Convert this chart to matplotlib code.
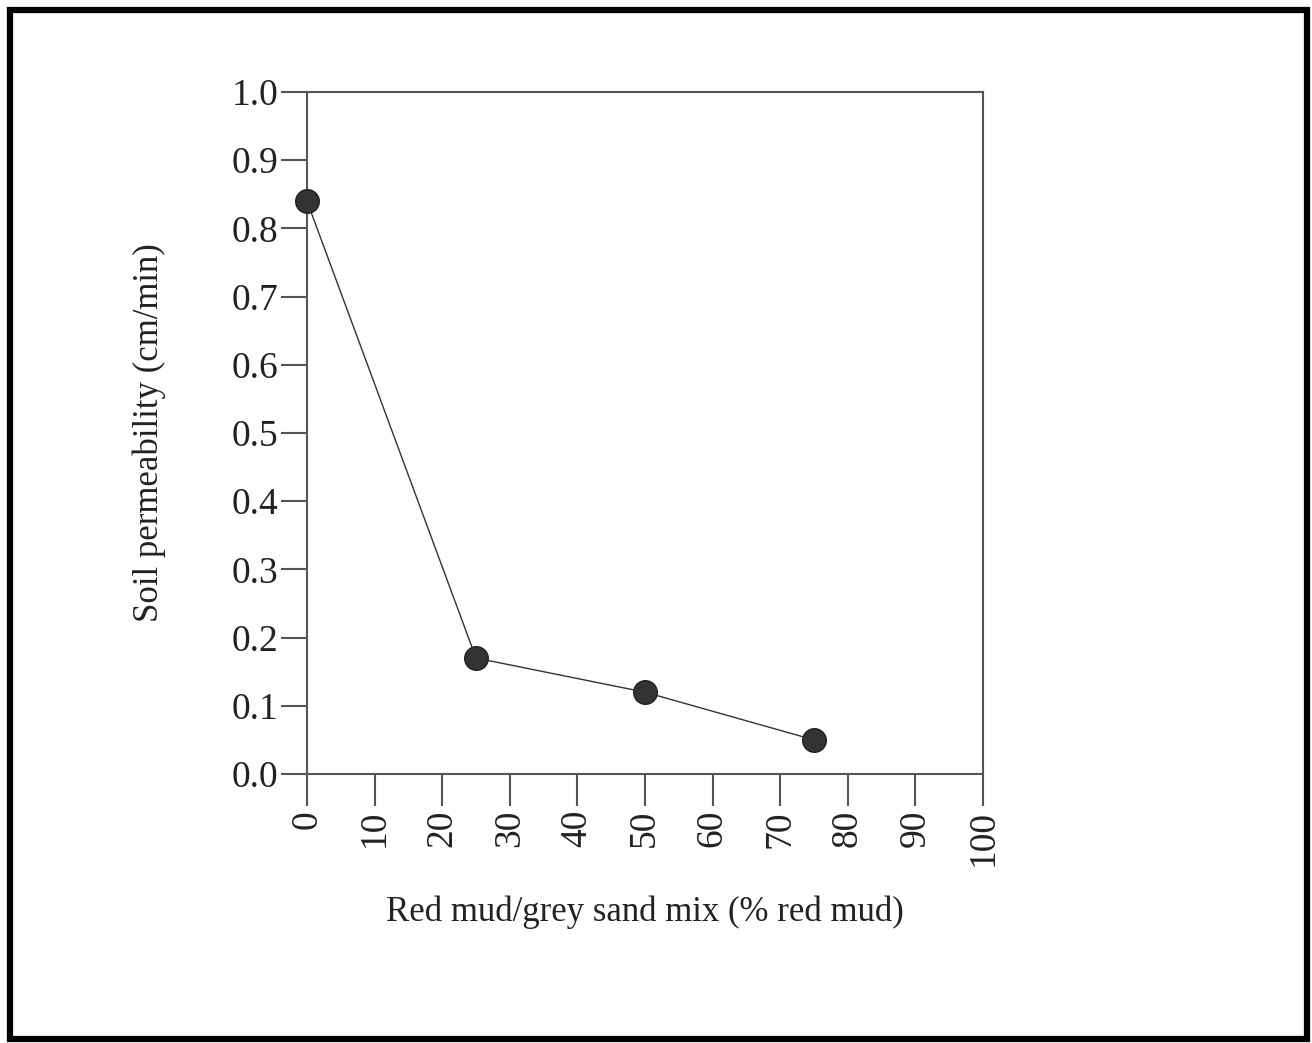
import matplotlib
matplotlib.use("Agg")
import matplotlib.pyplot as plt
from matplotlib.patches import Rectangle

# red mud content (%) and measured permeability
red_mud_pct = [0, 25, 50, 75]
permeability = [0.84, 0.17, 0.12, 0.05]

x_ticks = [0, 10, 20, 30, 40, 50, 60, 70, 80, 90, 100]
y_ticks = [0.0, 0.1, 0.2, 0.3, 0.4, 0.5, 0.6, 0.7, 0.8, 0.9, 1.0]

plt.rcParams["font.family"] = ["Liberation Serif", "DejaVu Serif"]

W, H = 1312, 1043
fig = plt.figure(figsize=(W / 100, H / 100), dpi=100)
ax = fig.add_axes([307 / W, 1 - 774 / H, (983 - 307) / W, (774 - 92) / H])

ax.plot(red_mud_pct, permeability, color="#333333", linewidth=1.0,
        marker="o", markersize=17, markerfacecolor="#333333",
        markeredgecolor="#222222", zorder=3, clip_on=False)

ax.set_xlim(0, 100)
ax.set_ylim(0, 1.0)
ax.set_xticks(x_ticks)
ax.set_yticks(y_ticks)
ax.set_xticklabels([str(v) for v in x_ticks], rotation=90)
ax.set_yticklabels([f"{v:.1f}" for v in y_ticks])

for s in ax.spines.values():
    s.set_color("#555555")
    s.set_linewidth(1.5)

ax.tick_params(axis="both", direction="out", color="#555555", width=1.5,
               labelsize=27, labelcolor="#222222")
ax.tick_params(axis="y", length=19, pad=1.5)
ax.tick_params(axis="x", length=23, pad=3)

ax.set_xlabel("Red mud/grey sand mix (% red mud)", fontsize=25,
              color="#222222", labelpad=21)
ax.set_ylabel("Soil permeability (cm/min)", fontsize=25,
              color="#222222", labelpad=47)

# heavy frame around the whole figure
fig.patches.append(Rectangle((0.0075, 0.004), 0.9885, 0.986, transform=fig.transFigure,
                             fill=False, edgecolor="black", linewidth=4.5))

fig.savefig("out.png", dpi=100, facecolor="white")
